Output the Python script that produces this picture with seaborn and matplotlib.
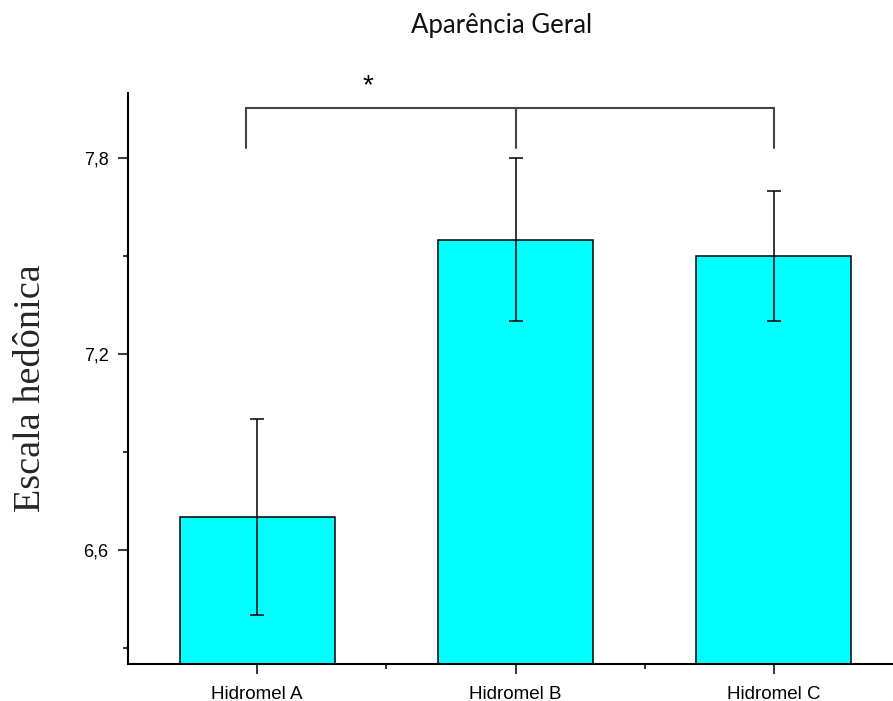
import matplotlib
matplotlib.use("Agg")
import matplotlib.pyplot as plt
from matplotlib.ticker import FixedLocator, FuncFormatter
import seaborn as sns
import pandas as pd

# Sensory panel: overall appearance scores per mead sample
categories = ["Hidromel A", "Hidromel B", "Hidromel C"]
means = [6.70, 7.55, 7.50]
errors = [0.30, 0.25, 0.20]
y_major = [6.6, 7.2, 7.8]
y_minor = [6.3, 6.9, 7.5]

df = pd.DataFrame({"amostra": categories, "nota": means})

sns.set_theme(style="white")
plt.rcParams["font.family"] = ["Liberation Sans", "DejaVu Sans"]

fig = plt.figure(figsize=(8.93, 7.01), dpi=100)
ax = fig.add_axes([128 / 893, 1 - 664 / 701, 775 / 893, (664 - 93) / 701])

sns.barplot(data=df, x="amostra", y="nota", color="#00FFFF", saturation=1,
            width=0.6, edgecolor="black", linewidth=1.1, errorbar=None, ax=ax)
ax.errorbar(range(len(categories)), means, yerr=errors, fmt="none",
            ecolor="black", elinewidth=1.1, capsize=5, capthick=1.1)

ax.set_xlim(-0.5, 2.5)
ax.set_ylim(6.25, 8.0)

for side in ("top", "right"):
    ax.spines[side].set_visible(False)
for side in ("left", "bottom"):
    ax.spines[side].set_linewidth(1.5)
    ax.spines[side].set_color("black")

ax.yaxis.set_major_locator(FixedLocator(y_major))
ax.yaxis.set_minor_locator(FixedLocator(y_minor))
ax.yaxis.set_major_formatter(FuncFormatter(lambda v, p: f"{v:.1f}".replace(".", ",")))
ax.xaxis.set_minor_locator(FixedLocator([0.5, 1.5]))

ax.tick_params(axis="both", which="major", direction="out", length=7.5, width=1.1,
               color="black", labelsize=13, labelcolor="black", left=True, bottom=True)
ax.tick_params(axis="both", which="minor", direction="out", length=3.6, width=1.1,
               color="black", left=True, bottom=True)
ax.tick_params(axis="y", which="major", pad=6.5)
ax.tick_params(axis="x", which="major", pad=8, labelsize=13.5)

ax.set_xlabel("")
ax.set_ylabel("Escala hedônica", family=["Liberation Serif", "DejaVu Serif"],
              fontsize=27.5)
ax.yaxis.set_label_coords(-0.103, 0.483)

fig.text(502 / 893, 1 - 25 / 701, "Aparência Geral", ha="center", va="center",
         family=["Lato", "DejaVu Sans"], fontsize=18.5, color="#111111")

# significance bracket across the three samples
br_y, br_low = 7.955, 7.83
br_x = [-0.045, 1.0, 2.0]
ax.plot([br_x[0], br_x[-1]], [br_y, br_y], color="#444444", lw=1.5, clip_on=False)
for bx in br_x:
    ax.plot([bx, bx], [br_low, br_y], color="#444444", lw=1.5, clip_on=False)
ax.text(0.43, 8.02, "*", ha="center", va="center", fontsize=20, color="black",
        clip_on=False)

fig.savefig("out.png", dpi=100)
